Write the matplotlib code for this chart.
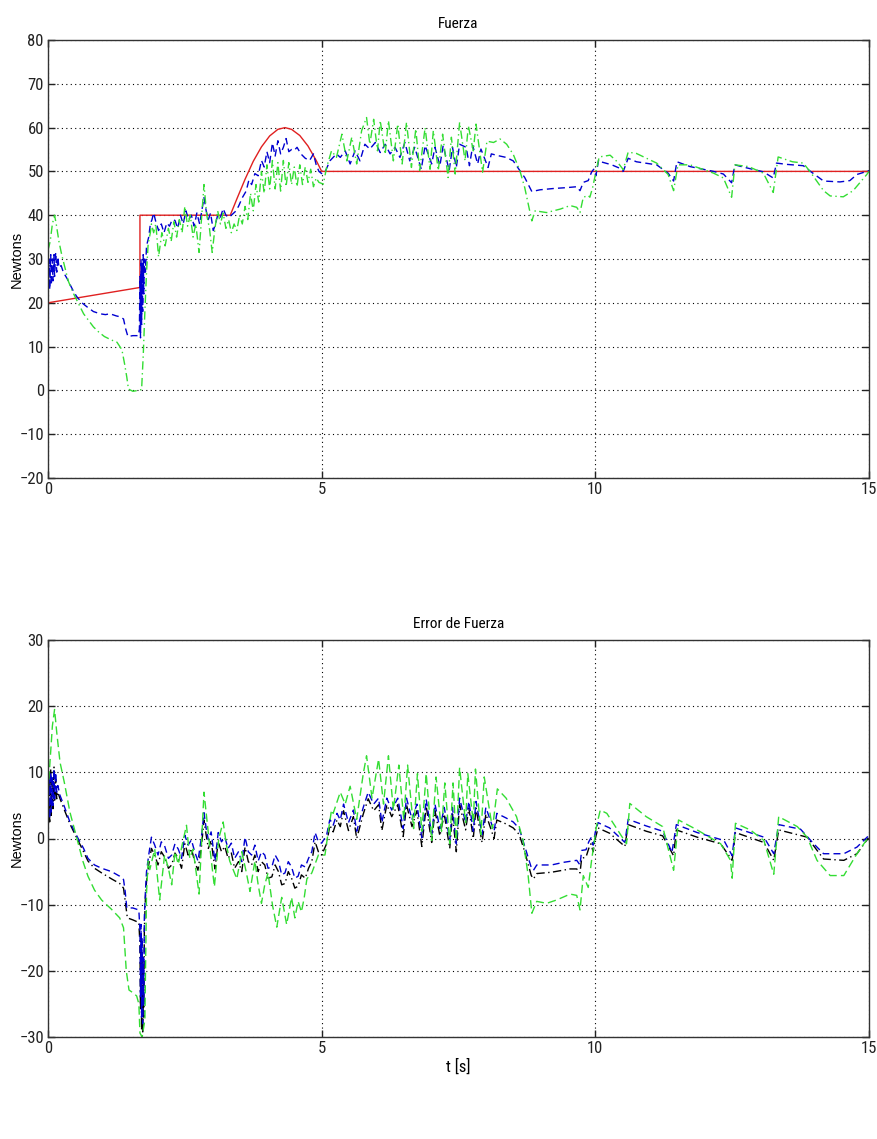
import matplotlib
matplotlib.use("Agg")
import matplotlib.pyplot as plt
import matplotlib.font_manager as fm

# narrow face for the tick labels and titles, if one is installed
fonts = fm.fontManager.ttflist
narrow_family, narrow_stretch = 'DejaVu Sans', 'normal'
for name in ['Liberation Sans Narrow', 'Arial Narrow', 'Roboto Condensed', 'Open Sans Condensed']:
    if any(f.name == name for f in fonts):
        narrow_family = name
        break
else:
    for f in fonts:
        if f.stretch in ('condensed', 'semi-condensed', 'extra-condensed', 600 - 100, 300, 400) \
                and f.style == 'normal' and str(f.weight) in ('400', 'normal', 'regular'):
            narrow_family, narrow_stretch = f.name, f.stretch
            break
plt.rcParams['font.family'] = [narrow_family, 'DejaVu Sans']
plt.rcParams['font.stretch'] = narrow_stretch

# ---- Fuerza (top) ----
ref_t = [0.0, 1.68, 1.68, 3.33, 3.45, 3.60, 3.75, 3.90, 4.05, 4.20, 4.33,
         4.45, 4.60, 4.75, 4.90, 5.0, 15.0]
ref_f = [20.0, 23.5, 40.0, 40.0, 43.7, 48.2, 52.3, 55.6, 58.1, 59.6, 60.0,
         59.6, 58.2, 55.8, 52.5, 50.0, 50.0]

blue_t = [0.00, 0.02, 0.03, 0.05, 0.06, 0.08, 0.09, 0.11, 0.12, 0.14, 0.16, 0.18, 0.20, 0.24,
          0.28, 0.35, 0.45, 0.52, 0.62, 0.72, 0.83, 0.95, 1.05, 1.13, 1.25, 1.32, 1.38, 1.42,
          1.46, 1.55, 1.65, 1.67, 1.68, 1.69, 1.70, 1.71, 1.72, 1.73, 1.74, 1.75, 1.76, 1.78,
          1.80, 1.84, 1.87, 1.90, 1.93, 1.97, 2.02, 2.07, 2.12, 2.17, 2.22, 2.27, 2.32, 2.37,
          2.42, 2.47, 2.52, 2.57, 2.62, 2.67, 2.72, 2.77, 2.81, 2.85, 2.89, 2.93, 2.97, 3.02,
          3.06, 3.10, 3.15, 3.20, 3.25, 3.30, 3.35, 3.42, 3.48, 3.55, 3.62, 3.67, 3.72, 3.78,
          3.84, 3.90, 3.95, 4.00, 4.05, 4.10, 4.15, 4.20, 4.25, 4.30, 4.35, 4.40, 4.45, 4.50,
          4.55, 4.62, 4.70, 4.78, 4.85, 4.90, 4.95, 5.00, 5.06,
          5.15, 5.27, 5.34, 5.43, 5.52, 5.61, 5.70, 5.79, 5.88, 5.98, 6.07, 6.16, 6.25, 6.34,
          6.43, 6.52, 6.61, 6.70, 6.82, 6.89, 7.01, 7.07, 7.16, 7.22, 7.33, 7.39, 7.46, 7.52,
          7.64, 7.70, 7.76, 7.85, 7.91, 8.04, 8.10, 8.22, 8.37, 8.50, 8.62, 8.71, 8.84, 8.99,
          9.24, 9.48, 9.66, 9.72, 9.78, 9.87, 9.93, 9.97, 10.01, 10.06, 10.10, 10.30, 10.45,
          10.51, 10.60, 10.75, 11.12, 11.33, 11.43, 11.49, 11.60, 11.73, 12.16, 12.34, 12.49,
          12.55, 12.70, 13.07, 13.25, 13.31, 13.50, 13.80, 13.92, 14.05, 14.17, 14.47, 14.65,
          14.78, 14.96, 15.0]
blue_f = [22, 30, 23, 31, 24, 30, 25, 31, 26, 31.5, 27, 30.5, 28, 28.5,
          27, 25.5, 23, 21.5, 20, 19, 18, 17.5, 17.3, 17.5, 17, 16.8, 16.3, 14,
          12.3, 12.5, 12.5, 14, 26, 12, 30, 15, 29, 18, 31, 22, 30, 27,
          33, 35, 38, 39, 40.5, 38.5, 36.5, 38, 36, 38.2, 37.5, 39, 38.8, 37,
          40, 38, 41, 39, 40, 37.5, 40.5, 38, 41, 44, 41, 39, 40.5, 36.5,
          38, 40, 39.5, 41.5, 40, 39.5, 40, 40.8, 42, 44, 45.5, 48, 47, 49.5,
          49, 52.5, 51, 54.5, 52, 56.5, 53.5, 57, 54, 55.5, 57.5, 54.5, 55, 54.8,
          55.5, 54, 53, 52.5, 54, 51.5, 50, 49.5, 49.8,
          52.4, 54.0, 53.2, 54.7, 51.7, 54.7, 52.4, 56.2, 55.1, 56.6, 54.3, 56.2, 54.0, 55.5,
          53.2, 56.6, 52.4, 55.5, 50.5, 55.9, 51.7, 55.5, 51.3, 55.9, 50.2, 55.5, 50.9, 56.2,
          55.5, 51.3, 55.9, 51.7, 55.1, 50.9, 54.0, 53.6, 53.2, 52.4, 50.2, 48.6, 45.4, 45.8,
          46.1, 46.3, 46.5, 45.6, 47.5, 47.9, 49.8, 50.5, 49.0, 52.6, 52.2, 51.5, 50.7,
          50.0, 53.0, 52.2, 51.5, 49.6, 47.8, 52.2, 51.7, 51.1, 50.0, 49.4, 47.4,
          51.5, 51.0, 49.9, 48.5, 51.9, 51.6, 51.3, 50.1, 48.9, 47.8, 47.6, 47.9,
          49.3, 50.0, 50.2]

green_t = [0.00, 0.04, 0.08, 0.12, 0.15, 0.20, 0.25, 0.30, 0.37, 0.45, 0.55, 0.65, 0.74, 0.83,
           0.92, 1.03, 1.16, 1.26, 1.35, 1.40, 1.44, 1.47, 1.55, 1.65, 1.71, 1.74, 1.77, 1.80,
           1.83, 1.87, 1.89, 1.93, 1.97, 2.02, 2.08, 2.14, 2.20, 2.25, 2.30, 2.35, 2.40, 2.45,
           2.50, 2.55, 2.60, 2.65, 2.70, 2.76, 2.81, 2.85, 2.90, 2.95, 3.00, 3.05, 3.10, 3.15,
           3.20, 3.25, 3.30, 3.35, 3.40, 3.45, 3.50, 3.55, 3.60, 3.65, 3.70, 3.75, 3.80, 3.85,
           3.90, 3.95, 4.00, 4.05, 4.10, 4.15, 4.20, 4.25, 4.30, 4.35, 4.40, 4.45, 4.50, 4.55,
           4.60, 4.65, 4.70, 4.75, 4.80, 4.85, 4.90, 4.95, 5.03,
           5.09, 5.18, 5.27, 5.37, 5.46, 5.55, 5.64, 5.73, 5.82, 5.88, 5.95, 6.02, 6.07, 6.16,
           6.22, 6.31, 6.39, 6.47, 6.55, 6.64, 6.72, 6.79, 6.89, 6.98, 7.04, 7.13, 7.21, 7.31,
           7.37, 7.44, 7.52, 7.62, 7.68, 7.77, 7.82, 7.94, 8.02, 8.14, 8.26, 8.38, 8.50, 8.62,
           8.71, 8.84, 8.90, 9.11, 9.36, 9.54, 9.66, 9.72, 9.78, 9.87, 9.90, 9.95, 10.07, 10.27,
           10.40, 10.51, 10.60, 10.75, 11.12, 11.33, 11.43, 11.51, 11.73, 12.16, 12.34, 12.49,
           12.55, 12.80, 13.07, 13.25, 13.34, 13.60, 13.80, 13.92, 14.17, 14.29, 14.53, 14.71,
           14.96, 15.0]
green_f = [32, 34, 38, 40, 38, 34, 31, 28.5, 25, 22.5, 20, 17.5, 16, 14.5,
           13.4, 12.3, 11.5, 11, 9.3, 6, 3, 0.3, -0.2, 0, 0.2, 8, 18, 27,
           33.5, 36, 38, 36, 38, 30.5, 36, 33, 37, 34, 38.5, 35, 39, 36,
           42, 37.5, 40, 35, 38, 31.5, 40, 47, 40, 37, 31.5, 37, 41, 38,
           40.5, 37, 39, 36, 38, 36.5, 40, 38, 42, 39, 45, 41, 47, 43,
           50, 45, 51.5, 46, 52.5, 46, 52, 45.5, 52.5, 46.5, 52, 47, 51, 46.5,
           51.5, 47, 51, 47.5, 50.5, 46.5, 48.5, 47.5, 47.1,
           50.9, 54.7, 53.2, 58.5, 52.4, 57.8, 51.7, 59.3, 62.3, 56.2, 61.9, 54.7, 61.6, 53.9,
           61.6, 52.4, 60.8, 51.7, 61.2, 50.9, 59.7, 50.2, 60.0, 50.5, 59.3, 50.2, 58.5, 48.6,
           57.8, 49.4, 61.2, 52.4, 60.4, 54.7, 60.8, 49.8, 56.9, 56.6, 57.4, 56.2, 53.9, 50.2,
           46.3, 38.7, 41.0, 40.6, 41.4, 42.2, 41.8, 40.6, 44.1, 44.5, 44.1, 46.3, 53.3, 53.7,
           52.2, 50.4, 54.4, 54.1, 51.9, 49.3, 45.6, 51.5, 51.5, 49.6, 48.5, 44.1,
           51.5, 51.1, 49.6, 45.2, 53.3, 52.2, 51.9, 50.0, 45.6, 44.4, 44.2, 45.6,
           49.3, 50.0]

# ---- Error de Fuerza (bottom) ----
eblue_t = [0.00, 0.02, 0.03, 0.05, 0.06, 0.08, 0.09, 0.11, 0.12, 0.14, 0.16, 0.18, 0.22, 0.30,
           0.40, 0.55, 0.65, 0.73, 0.85, 0.98, 1.16, 1.31, 1.38, 1.41, 1.44, 1.55, 1.66, 1.68,
           1.69, 1.70, 1.71, 1.72, 1.73, 1.74, 1.75, 1.76, 1.78, 1.80, 1.84, 1.89, 1.95, 2.01,
           2.07, 2.13, 2.20, 2.26, 2.32, 2.38, 2.44, 2.50, 2.56, 2.62, 2.68, 2.74, 2.80, 2.85,
           2.89, 2.93, 2.98, 3.05, 3.11, 3.17, 3.23, 3.29, 3.35, 3.41, 3.48, 3.54, 3.60, 3.66,
           3.72, 3.78, 3.84, 3.90, 3.96, 4.02, 4.09, 4.15, 4.21, 4.27, 4.33, 4.39, 4.45, 4.51,
           4.57, 4.63, 4.70, 4.76, 4.82, 4.88, 4.94, 5.00, 5.09, 5.15, 5.21, 5.28, 5.34, 5.40,
           5.49, 5.58, 5.64, 5.76, 5.85, 5.95, 6.04, 6.10, 6.19, 6.28, 6.39, 6.49, 6.55, 6.65,
           6.74, 6.83, 6.91, 7.01, 7.07, 7.16, 7.24, 7.34, 7.39, 7.46, 7.52, 7.63, 7.69, 7.77,
           7.82, 7.93, 8.00, 8.15, 8.20, 8.37, 8.50, 8.61, 8.71, 8.83, 8.87, 8.93, 9.20, 9.42,
           9.66, 9.72, 9.75, 9.83, 9.88, 9.92, 9.96, 10.00, 10.05, 10.10, 10.26, 10.54, 10.60,
           10.93, 11.23, 11.40, 11.48, 11.86, 12.35, 12.50, 12.56, 13.08, 13.26, 13.35, 13.75,
           13.99, 14.17, 14.54, 14.78, 14.99]
eblue_e = [2, 9, 3, 10, 4, 9.5, 5, 10.5, 6, 10, 7, 8, 6.5, 4.8,
           2.5, 0, -1.5, -3, -4, -4.5, -5, -5.7, -6.2, -8, -10.5, -10.5, -10.8, -14,
           -24, -13, -27, -15, -28, -18, -25, -12, -8, -5, -2.5, 0.2, -1, -2.5,
           -0.5, -1.1, -3, -2.5, -0.8, -1.6, -3, 0.5, -1, -0.2, -2, -3.4, 0, 3.9,
           1.5, -0.2, 1, -3.4, 0.9, -0.5, 0.2, -1.5, -0.7, -3, -2, -3.5, 0.2, -2,
           -2.5, -1, -3.4, -2, -2.5, -4.5, -4.3, -2.5, -3.4, -5.5, -5.2, -3.5, -4.3, -6,
           -5.7, -4, -4.3, -3, -2.0, 0.9, -0.5, -0.7, 0.5, 2.9, 2, 3.8, 2.8, 5.2,
           2.4, 4.3, 1.1, 4.7, 7, 5.2, 6.1, 2.4, 6.1, 4.3, 6.1, 1.5, 6.1, 2.9,
           5.2, 0.1, 5.9, 0.6, 5.2, 1.5, 4.7, -0.3, 4.7, -0.8, 6.1, 2.4, 5.6, 1.1,
           5.6, 0.6, 4.7, 1.1, 3.8, 3.1, 2.5, 1.5, -1.2, -4.4, -4.8, -4.0, -4.0, -3.6,
           -3.3, -4.0, -1.8, -1.7, -0.5, 0.1, -1.0, 1.0, 2.4, 2.2, 1.6, -0.6, 2.9,
           1.9, 1.1, -2.1, 2.1, 0.9, -0.3, -2.6, 1.6, 0.2, -2.3, 2.1, 1.4,
           -0.8, -2.3, -2.3, -1.3, 0.4]

eblack_t = [0.00, 0.02, 0.03, 0.05, 0.06, 0.08, 0.09, 0.11, 0.12, 0.14, 0.16, 0.18, 0.22, 0.30,
            0.40, 0.55, 0.65, 0.73, 0.85, 0.98, 1.16, 1.31, 1.38, 1.42, 1.45, 1.55, 1.66, 1.68,
            1.69, 1.70, 1.71, 1.72, 1.73, 1.74, 1.75, 1.76, 1.78, 1.80, 1.84, 1.89, 1.95, 2.01,
            2.07, 2.13, 2.20, 2.26, 2.32, 2.38, 2.44, 2.50, 2.56, 2.62, 2.68, 2.74, 2.80, 2.85,
            2.89, 2.93, 2.98, 3.05, 3.11, 3.17, 3.23, 3.29, 3.35, 3.41, 3.48, 3.54, 3.60, 3.66,
            3.72, 3.78, 3.84, 3.90, 3.96, 4.02, 4.09, 4.15, 4.21, 4.27, 4.33, 4.39, 4.45, 4.51,
            4.57, 4.63, 4.70, 4.76, 4.82, 4.88, 4.94, 5.00, 5.09, 5.15, 5.21, 5.28, 5.34, 5.40,
            5.49, 5.58, 5.64, 5.76, 5.85, 5.95, 6.04, 6.10, 6.19, 6.28, 6.39, 6.49, 6.55, 6.65,
            6.74, 6.83, 6.91, 7.01, 7.07, 7.16, 7.24, 7.34, 7.39, 7.46, 7.52, 7.63, 7.69, 7.77,
            7.82, 7.93, 8.00, 8.15, 8.20, 8.37, 8.50, 8.61, 8.71, 8.83, 8.87, 8.93, 9.20, 9.54,
            9.66, 9.72, 9.75, 9.83, 9.88, 9.92, 9.96, 10.00, 10.05, 10.10, 10.26, 10.54, 10.60,
            10.93, 11.23, 11.43, 11.48, 11.86, 12.29, 12.50, 12.56, 13.08, 13.26, 13.35, 13.87,
            14.17, 14.54, 14.78, 14.99]
eblack_e = [1.5, 10, 2.5, 10.5, 3.5, 9, 4.5, 10.8, 5.5, 9, 6, 7, 6, 4.3,
            2.2, -0.3, -2, -3.4, -4.5, -5.2, -6.1, -6.8, -7.5, -10, -12, -12.3, -12.7, -16,
            -26, -15, -29, -17, -29.5, -20, -27, -14, -9, -6.5, -4, -1.5, -2.5, -4,
            -2, -2.8, -4.5, -4, -2.2, -3, -4.5, -0.8, -2.5, -1.5, -3.5, -4.8, -1.5, 2.8,
            0.5, -1.5, -0.3, -4.6, -0.5, -2, -1.2, -3, -2.2, -4.5, -3.5, -5, -1.3, -3.5,
            -4, -2.5, -5, -3.5, -4, -6, -5.8, -4, -5, -7, -6.8, -5, -6, -7.5,
            -7.2, -5.5, -6, -4.5, -3.5, -0.5, -2, -2.5, -0.8, 2, 1, 2.8, 1.8, 4.2,
            1.2, 3.3, 0, 3.7, 6, 4.2, 5.1, 1.2, 5.1, 3.3, 5.1, 0.3, 5.1, 1.8,
            4.2, -1.2, 4.9, -0.6, 4.2, 0.4, 3.7, -1.5, 3.7, -2, 5.1, 1.3, 4.6, 0,
            4.6, -0.6, 3.7, 0, 2.8, 2.2, 1.6, 0.6, -2, -5.6, -6.1, -5.3, -5.1, -4.6,
            -4.6, -5.2, -3, -2.8, -1.5, -0.8, -2, 0, 1.6, 1.4, 0.8, -1.2, 2.1,
            1.1, 0.4, -2.6, 1.3, 0.2, -0.8, -3.3, 0.9, -0.6, -3.3, 1.3, 0.2,
            -3.1, -3.3, -2.3, 0.1]

egreen_t = [0.00, 0.04, 0.08, 0.12, 0.16, 0.22, 0.30, 0.40, 0.55, 0.64, 0.73, 0.85, 0.98, 1.16,
            1.31, 1.38, 1.43, 1.48, 1.55, 1.62, 1.66, 1.68, 1.72, 1.77, 1.80, 1.83, 1.86, 1.95,
            2.04, 2.13, 2.20, 2.26, 2.32, 2.38, 2.45, 2.53, 2.59, 2.65, 2.76, 2.85, 2.96, 3.04,
            3.12, 3.20, 3.26, 3.32, 3.45, 3.54, 3.62, 3.69, 3.78, 3.84, 3.90, 3.96, 4.02, 4.10,
            4.18, 4.27, 4.36, 4.45, 4.51, 4.57, 4.63, 4.68, 4.73, 4.82, 4.94, 5.06, 5.12, 5.18,
            5.21, 5.34, 5.43, 5.52, 5.64, 5.76, 5.82, 5.92, 6.04, 6.13, 6.22, 6.31, 6.41, 6.50,
            6.57, 6.68, 6.75, 6.83, 6.91, 7.01, 7.09, 7.19, 7.25, 7.34, 7.40, 7.46, 7.52, 7.63,
            7.67, 7.77, 7.81, 7.91, 7.97, 8.12, 8.21, 8.37, 8.56, 8.68, 8.77, 8.84, 8.93, 9.11,
            9.29, 9.54, 9.66, 9.72, 9.78, 9.87, 9.93, 10.02, 10.09, 10.21, 10.57, 10.63, 10.93,
            11.23, 11.43, 11.52, 11.86, 12.29, 12.47, 12.50, 12.56, 12.83, 13.08, 13.26, 13.35,
            13.69, 13.87, 14.05, 14.29, 14.54, 14.78, 14.99]
egreen_e = [7, 12, 17, 19.5, 16, 11.5, 8.4, 4, -0.7, -3.5, -5.7, -7.8, -9.3, -10.7,
            -12, -13.5, -20, -22.9, -23.3, -23.8, -25, -29.4, -30, -27.4, -8.2, -3.4, -4.7, -1.6,
            -9.3, -2.5, -4.5, -7, -2, -3.9, -1, 2, -3, -1.6, -8.4, 7, -1.6, -7.3,
            0, 2.5, -1, -3.4, -6.1, -2, -5, -8, -3.4, -7, -9.8, -7, -5.2, -10,
            -13.4, -8.9, -13, -8.9, -12, -9.5, -11.1, -9, -6.1, -5.2, -2.5, -2.5, 1, 4.3,
            3.8, 7, 5.2, 7.9, 2.9, 9.8, 12.5, 6.1, 12, 5.2, 12.5, 4.3, 11.1, 2.9,
            11.1, 1.5, 9.8, 1.1, 9.8, -0.3, 9.3, 1.1, 8.4, -0.8, 8.4, -0.3, 10.7, 2.4,
            9.8, 2.4, 10.5, 0.6, 9.3, 1.5, 7.5, 6.1, 3.3, -0.3, -5.4, -11.3, -9.5, -9.8,
            -9.3, -8.4, -8.6, -10.8, -5.6, -7.4, -3.4, 1.8, 4.3, 3.8, -0.8, 5.3, 3.3,
            1.8, -4.8, 2.8, 1.3, -0.8, -3.3, -6, 2.3, 1.3, -0.3, -5.4, 3.3,
            1.8, 0.2, -3.3, -5.6, -5.6, -2.3, 0.2]

W, H = 878, 1139
fig = plt.figure(figsize=(W / 100, H / 100), dpi=100)
ax1 = fig.add_axes([48 / W, 1 - 478 / H, 821 / W, 438 / H])
ax2 = fig.add_axes([48 / W, 1 - 1037 / H, 821 / W, 397 / H])

lw = 1.0
ax1.plot(ref_t, ref_f, color='#e02020', lw=lw)
ax1.plot(blue_t, blue_f, color='#0000d0', lw=lw, dashes=(5, 3))
ax1.plot(green_t, green_f, color='#33dd33', lw=lw, dashes=(6, 2.5, 1, 2.5))

ax2.plot(eblack_t, eblack_e, color='k', lw=lw, dashes=(6, 2.5, 1, 2.5))
ax2.plot(eblue_t, eblue_e, color='#0000d0', lw=lw, dashes=(5, 3))
ax2.plot(egreen_t, egreen_e, color='#33dd33', lw=lw, dashes=(6, 3))

for ax, lo, hi in [(ax1, -20, 80), (ax2, -30, 30)]:
    ax.set_xlim(0, 15)
    ax.set_ylim(lo, hi)
    ax.set_xticks([0, 5, 10, 15])
    ax.set_yticks(range(lo, hi + 1, 10))
    ax.grid(True, color='k', lw=0.8, linestyle=(0, (1, 3)))
    ax.tick_params(direction='in', top=True, right=True, length=5, width=1,
                   labelsize=12, pad=3, colors='#222222')
    for s in ax.spines.values():
        s.set_linewidth(1.0)
        s.set_color('#333333')
    ax.set_ylabel('Newtons', family=['Liberation Sans', 'DejaVu Sans'],
                  stretch='normal', fontsize=10.5)
    ax.yaxis.set_label_coords(-0.029, 0.5)

ax1.set_title('Fuerza', fontsize=11, pad=9)
ax2.set_title('Error de Fuerza', fontsize=11, pad=9)
ax2.set_xlabel('t [s]', fontsize=12, labelpad=2)

fig.savefig('out.png', dpi=100)
